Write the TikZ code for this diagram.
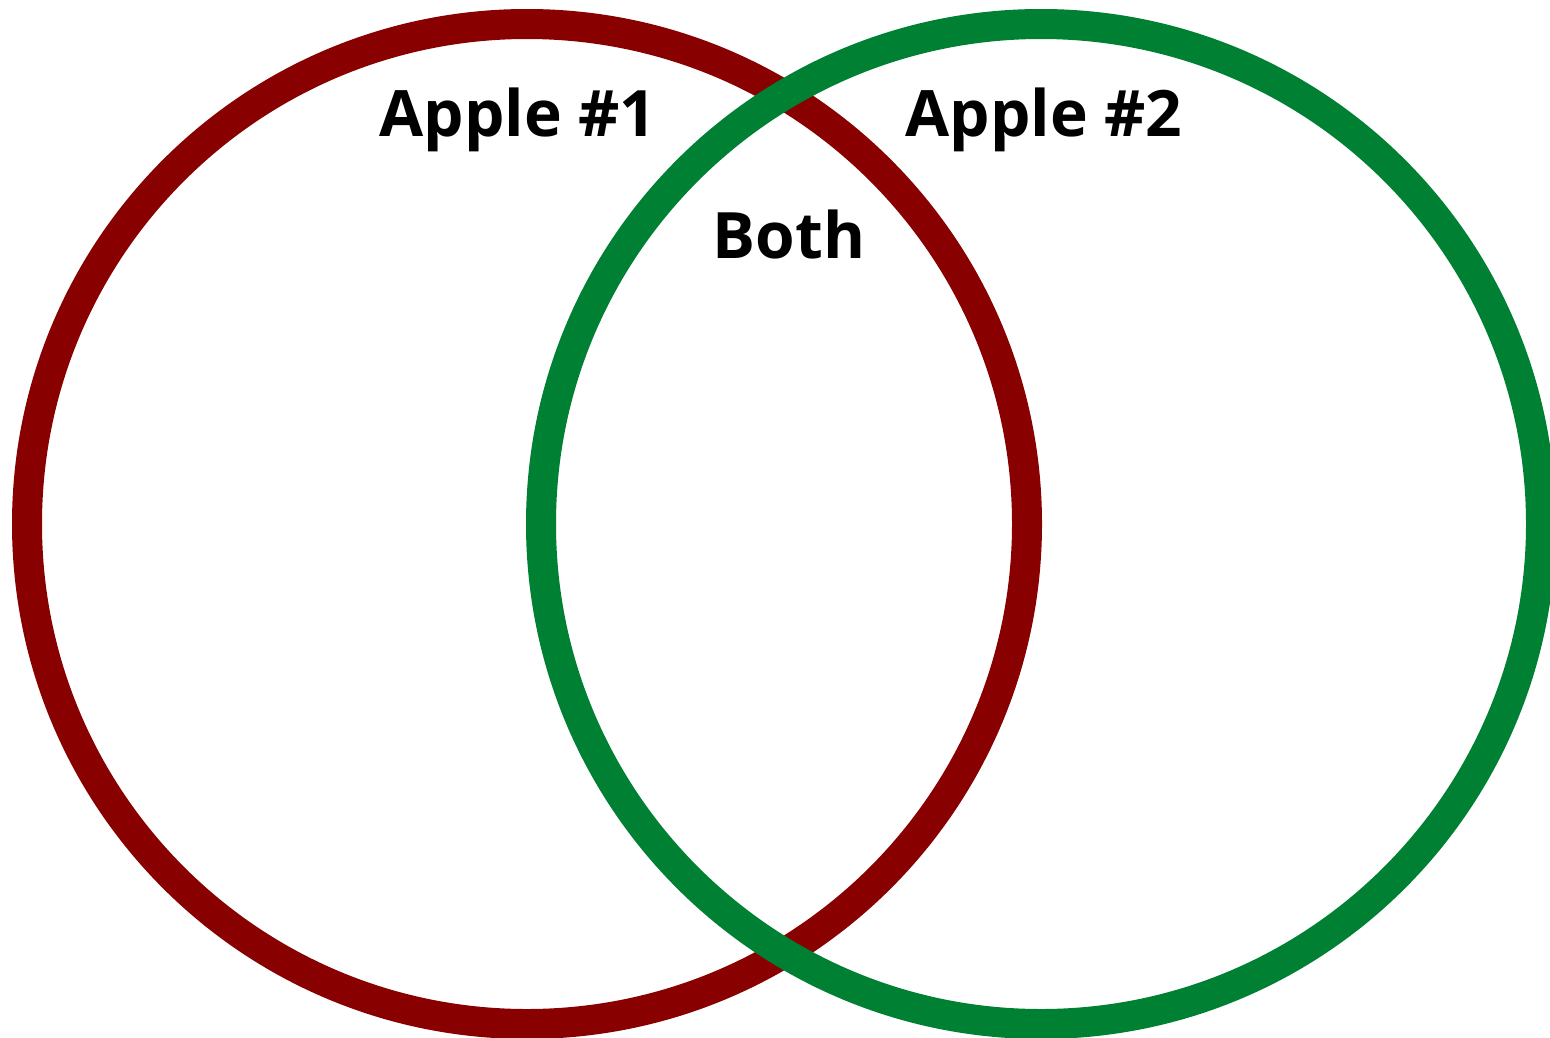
\documentclass[tikz,border=0pt]{standalone}
\usepackage{fontspec}
\newfontfamily\vennfont{Open Sans}
\definecolor{applered}{HTML}{880000}
\definecolor{applegreen}{HTML}{008033}
\begin{document}
\begin{tikzpicture}[
  x=1pt, y=-1pt,
  set/.style={circle, draw, line width=30pt, minimum size=1000pt, inner sep=0pt},
  title/.style={anchor=base, inner sep=0pt, font=\vennfont\bfseries\fontsize{64pt}{64pt}\selectfont}
]
\useasboundingbox (0,0) rectangle (1550,1037);
\node[set, draw=applered] (apple1) at (527,524) {};
\node[set, draw=applegreen] (apple2) at (1041,524) {};
\node[title] (label1) at (518,136) {Apple \#1};
\node[title] (label2) at (1044,136) {Apple \#2};
\node[title] (both) at (789,258) {Both};
\end{tikzpicture}
\end{document}
